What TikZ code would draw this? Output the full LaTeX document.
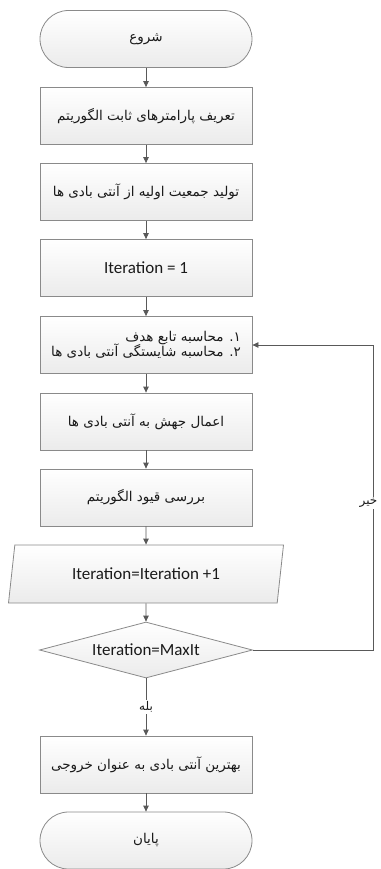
\documentclass[tikz,border=0pt]{standalone}
\usepackage{fontspec}
\setmainfont{Carlito}
\newfontfamily\arabicfont[Script=Arabic]{DejaVu Sans}
\TeXXeTstate=1
\usetikzlibrary{shapes.geometric,arrows.meta}
\newcommand\fatext[1]{{\arabicfont\fontsize{13.5}{18}\selectfont\beginR #1\endR}}
\newcommand\falabel[1]{{\arabicfont\fontsize{12}{14}\selectfont\beginR #1\endR}}
\definecolor{boxline}{HTML}{8A8A8A}
\definecolor{boxfill}{HTML}{EBEBEB}
\definecolor{arrowcol}{HTML}{595959}
\definecolor{txt}{HTML}{1A1A1A}
\begin{document}
\begin{tikzpicture}[x=1pt,y=-1pt,
  shapebase/.style={draw=boxline, line width=0.8pt, top color=white, bottom color=boxfill, text=txt, inner sep=0pt},
  procbox/.style={shapebase, rectangle, minimum width=212pt, minimum height=57pt},
  termbox/.style={shapebase, rectangle, rounded corners=28.5pt, minimum width=212pt, minimum height=57pt},
  iobox/.style={shapebase, trapezium, trapezium left angle=62, trapezium right angle=118, trapezium stretches body, minimum width=275pt, minimum height=58pt},
  decbox/.style={shapebase, diamond, aspect=3.8, minimum width=213pt, minimum height=56pt},
  latin/.style={font=\fontsize{17}{20}\selectfont},
  flow/.style={draw=arrowcol, line width=0.8pt, -{Triangle[length=6pt,width=5.5pt]}},
  edgelabel/.style={fill=white, inner sep=1.5pt, text=txt}
]
\useasboundingbox (0,0) rectangle (380,869);

\node[termbox] (start) at (146,39) {\fatext{شروع}};
\node[procbox] (b1) at (146,116) {\fatext{تعریف پارامترهای ثابت الگوریتم}};
\node[procbox] (b2) at (146,192) {\fatext{تولید جمعیت اولیه از آنتی بادی ها}};
\node[procbox, latin] (b3) at (146,268) {Iteration = 1};
\node[procbox, align=right] (b4) at (146,345) {\fatext{۱. محاسبه تابع هدف}\\[-2pt]\fatext{۲. محاسبه شایستگی آنتی بادی ها}};
\node[procbox] (b5) at (146,421.5) {\fatext{اعمال جهش به آنتی بادی ها}};
\node[procbox] (b6) at (146,497.5) {\fatext{بررسی قیود الگوریتم}};
\node[iobox, latin] (io) at (146,574) {Iteration=Iteration +1};
\node[decbox, latin] (dec) at (146,650) {Iteration=MaxIt};
\node[procbox] (b7) at (146,764.5) {\fatext{بهترین آنتی بادی به عنوان خروجی}};
\node[termbox] (stop) at (146,840.5) {\fatext{پایان}};

\coordinate (turn) at (373,650);

\draw[flow] (start) -- (b1);
\draw[flow] (b1) -- (b2);
\draw[flow] (b2) -- (b3);
\draw[flow] (b3) -- (b4);
\draw[flow] (b4) -- (b5);
\draw[flow] (b5) -- (b6);
\draw[flow] (b6) -- (io);
\draw[flow] (io) -- (dec);
\draw[flow] (dec) -- node[edgelabel] {\falabel{بله}} (b7);
\draw[flow] (b7) -- (stop);
\draw[flow] (dec.east) -- (turn) |- (b4.east);
\node[edgelabel, anchor=east] (no) at (379,503) {\falabel{خیر}};
\end{tikzpicture}
\end{document}
